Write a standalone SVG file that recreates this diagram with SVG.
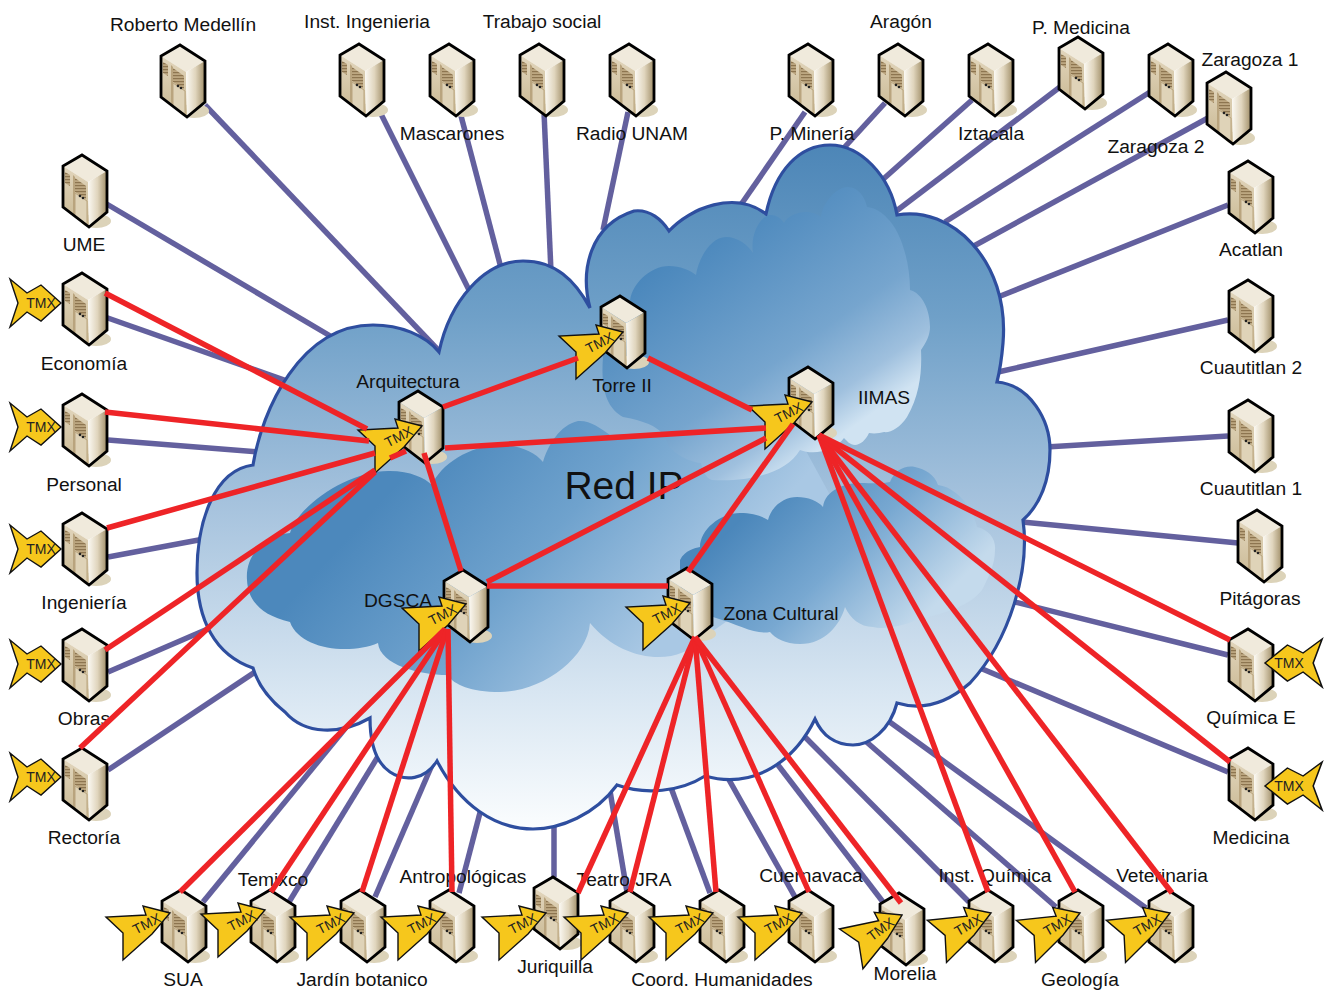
<svg xmlns="http://www.w3.org/2000/svg" width="1330" height="990" viewBox="0 0 1330 990">
<style>
text{font-family:"Liberation Sans",Arial,sans-serif;fill:#111}
.l{font-size:19.2px;text-anchor:middle}
.t{font-size:14px;text-anchor:middle;fill:#222}
.b line{stroke:#63609e;stroke-width:5.5}
.r line{stroke:#ee2427;stroke-width:5.5}
.ar{fill:#f6c71c;stroke:#111;stroke-width:1.4;stroke-linejoin:miter}
</style>
<defs>
<linearGradient id="gC" gradientUnits="userSpaceOnUse" x1="0" y1="145" x2="0" y2="830">
<stop offset="0" stop-color="#4d86b7"/><stop offset=".25" stop-color="#6fa0c8"/><stop offset=".52" stop-color="#a5c2dd"/><stop offset=".8" stop-color="#d8e6f2"/><stop offset="1" stop-color="#fbfdfe"/>
</linearGradient>
<linearGradient id="gU" gradientUnits="userSpaceOnUse" x1="680" y1="250" x2="820" y2="450">
<stop offset="0" stop-color="#4a87bc"/><stop offset=".6" stop-color="#76a5ce"/><stop offset=".85" stop-color="#9fc0de"/><stop offset="1" stop-color="#d0e3f2"/>
</linearGradient>
<linearGradient id="gL" gradientUnits="userSpaceOnUse" x1="400" y1="480" x2="620" y2="680">
<stop offset="0" stop-color="#4c88bc"/><stop offset=".5" stop-color="#6fa2cd"/><stop offset="1" stop-color="#a9c8e4"/>
</linearGradient>
<linearGradient id="gR" gradientUnits="userSpaceOnUse" x1="760" y1="500" x2="900" y2="640">
<stop offset="0" stop-color="#4b87bb"/><stop offset=".5" stop-color="#78a8d1"/><stop offset="1" stop-color="#c4daec"/>
</linearGradient>
<linearGradient id="gS" x1="0" y1="0" x2="1" y2="0">
<stop offset="0" stop-color="#fbf9f3"/><stop offset=".5" stop-color="#e0d5bd"/><stop offset="1" stop-color="#a08e68"/>
</linearGradient>
<linearGradient id="gF" x1="0" y1="0" x2="0" y2="1">
<stop offset="0" stop-color="#e2d6bd"/><stop offset="1" stop-color="#c8b791"/>
</linearGradient>
<pattern id="v" width="3" height="3" patternUnits="userSpaceOnUse"><rect width="3" height="3" fill="#bda781"/><rect width="3" height="1.2" fill="#8d7550"/></pattern>
<g id="srv" transform="translate(1,0)">
<ellipse cx="14" cy="66" rx="15" ry="7" fill="#dcd3b9"/>
<polygon points="0,0 25,16 6,27 -19,11" fill="#f0eadc"/>
<polygon points="-19,11 6,27 7,72 -19,52" fill="url(#gF)"/>
<polygon points="25,16 25,57 7,72 6,27" fill="url(#gS)"/>
<polygon points="-17,17 -12,20 -12,31 -17,28" fill="url(#v)"/>
<polygon points="-7,23 4,31 4,44 -7,37" fill="url(#v)"/>
<polygon points="-9,20 -9,60 -7,62 -7,22" fill="#b9a47e"/>
<polygon points="-7,38 5,46 5,69 -7,62" fill="#dfd3b8" stroke="#b9a47e" stroke-width="1"/>
<circle cx="-2" cy="41" r="1.3" fill="#222"/><circle cx="1" cy="43" r="1.3" fill="#222"/>
<polygon points="0,0 25,16 25,57 7,72 -19,52 -19,11" fill="none" stroke="#000" stroke-width="2.8" stroke-linejoin="miter"/>
</g>
<polygon id="aL" class="ar" points="0,0 -20,-18 -34,-10 -51,-24 -43,0 -51,24 -34,9 -20,18"/>
<polygon id="aR" class="ar" points="0,0 -27,-7 -24,2 -64,4 -47,20 -47,47 -18,21"/>
</defs>

<g id="connectors-ip" class="b">
<line x1="205" y1="105" x2="440" y2="352"/>
<line x1="380" y1="112" x2="470" y2="292"/>
<line x1="460" y1="112" x2="501" y2="268"/>
<line x1="544" y1="112" x2="551" y2="272"/>
<line x1="628" y1="112" x2="603" y2="230"/>
<line x1="805" y1="112" x2="740" y2="206"/>
<line x1="885" y1="103" x2="842" y2="150"/>
<line x1="972" y1="100" x2="880" y2="182"/>
<line x1="1060" y1="87" x2="895" y2="212"/>
<line x1="1150" y1="92" x2="945" y2="222"/>
<line x1="1208" y1="118" x2="972" y2="247"/>
<line x1="1228" y1="205" x2="998" y2="297"/>
<line x1="1228" y1="320" x2="998" y2="372"/>
<line x1="1228" y1="436" x2="1046" y2="447"/>
<line x1="1238" y1="543" x2="1022" y2="522"/>
<line x1="1228" y1="655" x2="1015" y2="602"/>
<line x1="1228" y1="772" x2="980" y2="668"/>
<line x1="105" y1="203" x2="332" y2="337"/>
<line x1="105" y1="317" x2="290" y2="382"/>
<line x1="108" y1="440" x2="258" y2="452"/>
<line x1="108" y1="557" x2="204" y2="539"/>
<line x1="108" y1="672" x2="210" y2="628"/>
<line x1="108" y1="770" x2="258" y2="670"/>
<line x1="203" y1="902" x2="348" y2="725"/>
<line x1="289" y1="902" x2="382" y2="750"/>
<line x1="375" y1="897" x2="432" y2="765"/>
<line x1="459" y1="893" x2="482" y2="805"/>
<line x1="554" y1="877" x2="554" y2="820"/>
<line x1="627" y1="892" x2="609" y2="785"/>
<line x1="710" y1="893" x2="670" y2="785"/>
<line x1="795" y1="897" x2="728" y2="778"/>
<line x1="883" y1="902" x2="778" y2="765"/>
<line x1="969" y1="902" x2="805" y2="737"/>
<line x1="1056" y1="907" x2="862" y2="738"/>
<line x1="1146" y1="908" x2="887" y2="720"/>
</g>

<g id="cloud">
<path id="cloud-outer" fill="url(#gC)" stroke="#2e4e9f" stroke-width="3.2" stroke-linejoin="miter" d="M590,308 C580,270 590,225 634,211 C650,209 662,220 669,231 C690,208 735,190 766,214 C775,170 800,145 830,145 C860,145 890,175 897,215 C950,205 1010,260 1003,343 C1002,355 1000,370 997,382 C1030,385 1050,420 1050,450 C1050,480 1040,505 1023,520 C1030,570 1010,640 970,683 C945,705 920,710 897,703 C890,730 870,745 853,745 C835,745 822,735 815,719 C795,760 755,790 705,776 C680,792 645,795 617,785 C595,815 560,829 533,829 C495,829 460,805 437,761 C425,780 405,782 390,772 C375,762 370,740 370,718 C340,735 305,735 285,712 C270,700 258,685 253,668 C215,655 197,620 197,573 C197,520 215,470 253,465 C262,410 300,325 373,325 C400,325 425,335 439,352 C450,300 485,261 523,261 C555,261 575,280 590,308 Z"/>
<path fill="url(#gL)" d="M247,580 C245,555 265,535 290,533 C298,505 350,470 390,471 C410,471 425,478 432,485 C440,465 470,445 500,445 C520,445 535,452 543,462 C548,445 560,425 578,421 C590,420 600,428 610,435 L700,430 L800,440 L830,495 L800,570 L700,640 C680,665 625,665 590,623 C587,660 540,692 500,692 C470,692 455,685 447,675 C420,675 380,665 378,643 C350,655 300,650 290,622 C260,615 248,600 247,580 Z"/>
<path fill="url(#gR)" d="M680,560 C685,550 695,548 700,547 C700,530 720,513 740,513 C752,513 762,516 768,520 C772,505 785,497 797,497 C808,497 818,501 823,507 C825,490 845,483 860,483 C872,483 882,484 890,482 C895,470 905,465 915,467 C925,469 935,475 938,485 C955,487 972,505 977,527 C990,530 996,540 995,550 C995,565 988,578 982,590 C970,605 950,612 917,620 C905,625 885,630 873,627 C860,627 850,618 845,607 C840,625 825,644 800,644 C785,644 775,638 770,632 C755,635 740,625 713,617 L680,600 Z"/>
<path fill="url(#gU)" d="M603,357 C605,335 615,315 630,303 C630,285 650,266 669,266 C680,266 690,270 696,275 C698,260 710,237 726,237 C738,237 748,245 753,253 C750,235 760,215 771,215 C776,215 781,218 784,223 C790,212 810,208 821,217 C822,205 835,187 848,187 C858,187 865,197 867,207 C875,208 882,212 887,218 C900,230 910,260 910,290 C922,293 930,310 930,327 C930,335 926,343 921,350 C922,370 920,395 907,417 C900,428 890,433 884,432 C880,433 875,434 869,433 C866,440 860,445 855,445 C850,445 847,441 844,438 C835,450 815,456 800,450 C785,475 745,482 712,480 C705,478 703,470 701,463 C695,463 680,458 669,447 C665,440 668,425 623,417 C610,410 600,395 603,357 Z"/>
<text x="624" y="499" text-anchor="middle" style="font-size:39px">Red IP</text>
</g>

<g id="n-roberto"><use href="#srv" x="179" y="45"/><text class="l" x="183" y="31">Roberto Medellín</text></g>
<g id="n-inst-ing"><use href="#srv" x="358" y="44"/><text class="l" x="367" y="28">Inst. Ingenieria</text></g>
<g id="n-mascarones"><use href="#srv" x="448" y="44"/><text class="l" x="452" y="140">Mascarones</text></g>
<g id="n-trabajo"><use href="#srv" x="538" y="44"/><text class="l" x="542" y="28">Trabajo social</text></g>
<g id="n-radio"><use href="#srv" x="628" y="44"/><text class="l" x="632" y="140">Radio UNAM</text></g>
<g id="n-mineria"><use href="#srv" x="807" y="44"/><text class="l" x="812" y="140">P. Minería</text></g>
<g id="n-aragon"><use href="#srv" x="897" y="44"/><text class="l" x="901" y="28">Aragón</text></g>
<g id="n-iztacala"><use href="#srv" x="987" y="44"/><text class="l" x="991" y="140">Iztacala</text></g>
<g id="n-medicina-p"><use href="#srv" x="1077" y="37"/><text class="l" x="1081" y="34">P. Medicina</text></g>
<g id="n-zaragoza1"><use href="#srv" x="1167" y="44"/><text class="l" x="1250" y="66">Zaragoza 1</text></g>
<g id="n-zaragoza2"><use href="#srv" x="1225" y="72"/><text class="l" x="1156" y="153">Zaragoza 2</text></g>
<g id="n-acatlan"><use href="#srv" x="1247" y="161"/><text class="l" x="1251" y="256">Acatlan</text></g>
<g id="n-cuau2"><use href="#srv" x="1247" y="280"/><text class="l" x="1251" y="374">Cuautitlan 2</text></g>
<g id="n-cuau1"><use href="#srv" x="1247" y="400"/><text class="l" x="1251" y="495">Cuautitlan 1</text></g>
<g id="n-pitagoras"><use href="#srv" x="1256" y="510"/><text class="l" x="1260" y="605">Pitágoras</text></g>
<g id="n-quimica-e"><use href="#srv" x="1247" y="629"/><g transform="translate(1265,663)"><use href="#aL" transform="scale(-1.12,1)"/><text class="t" x="24" y="5">TMX</text></g><text class="l" x="1251" y="724">Química E</text></g>
<g id="n-medicina"><use href="#srv" x="1247" y="748"/><g transform="translate(1265,786)"><use href="#aL" transform="scale(-1.12,1)"/><text class="t" x="24" y="5">TMX</text></g><text class="l" x="1251" y="844">Medicina</text></g>

<g id="n-ume"><use href="#srv" x="81" y="155"/><text class="l" x="84" y="251">UME</text></g>
<g id="n-economia"><use href="#srv" x="81" y="273"/><g transform="translate(61,303)"><use href="#aL"/><text class="t" x="-20" y="5">TMX</text></g><text class="l" x="84" y="370">Economía</text></g>
<g id="n-personal"><use href="#srv" x="81" y="394"/><g transform="translate(61,427)"><use href="#aL"/><text class="t" x="-20" y="5">TMX</text></g><text class="l" x="84" y="491">Personal</text></g>
<g id="n-ingenieria"><use href="#srv" x="81" y="513"/><g transform="translate(61,549)"><use href="#aL"/><text class="t" x="-20" y="5">TMX</text></g><text class="l" x="84" y="609">Ingeniería</text></g>
<g id="n-obras"><use href="#srv" x="81" y="629"/><g transform="translate(61,664)"><use href="#aL"/><text class="t" x="-20" y="5">TMX</text></g><text class="l" x="84" y="725">Obras</text></g>
<g id="n-rectoria"><use href="#srv" x="81" y="748"/><g transform="translate(61,777)"><use href="#aL"/><text class="t" x="-20" y="5">TMX</text></g><text class="l" x="84" y="844">Rectoría</text></g>

<g id="n-arquitectura"><use href="#srv" x="417" y="391"/><text class="l" x="408" y="388">Arquitectura</text><g transform="translate(422,426)"><use href="#aR"/><text class="t" transform="translate(-21,15) rotate(-27)">TMX</text></g></g>
<g id="n-torre"><use href="#srv" x="619" y="296"/><text class="l" x="622" y="392">Torre II</text><g transform="translate(623,332)"><use href="#aR"/><text class="t" transform="translate(-21,15) rotate(-27)">TMX</text></g></g>
<g id="n-iimas"><use href="#srv" x="807" y="367"/><text class="l" x="884" y="404">IIMAS</text><g transform="translate(812,402)"><use href="#aR"/><text class="t" transform="translate(-21,15) rotate(-27)">TMX</text></g></g>
<g id="n-dgsca"><use href="#srv" x="462" y="570"/><text class="l" x="398" y="607">DGSCA</text><g transform="translate(466,604)"><use href="#aR"/><text class="t" transform="translate(-21,15) rotate(-27)">TMX</text></g></g>
<g id="n-zona"><use href="#srv" x="686" y="568"/><text class="l" x="781" y="620">Zona Cultural</text><g transform="translate(690,603)"><use href="#aR"/><text class="t" transform="translate(-21,15) rotate(-27)">TMX</text></g></g>

<g id="n-sua"><use href="#srv" x="180" y="890"/><text class="l" x="183" y="986">SUA</text><g transform="translate(170,913)"><use href="#aR"/><text class="t" transform="translate(-21,15) rotate(-27)">TMX</text></g></g>
<g id="n-temixco"><use href="#srv" x="269" y="890"/><text class="l" x="273" y="886">Temixco</text><g transform="translate(265,910)"><use href="#aR"/><text class="t" transform="translate(-21,15) rotate(-27)">TMX</text></g></g>
<g id="n-jardin"><use href="#srv" x="359" y="890"/><text class="l" x="362" y="986">Jardín botanico</text><g transform="translate(354,913)"><use href="#aR"/><text class="t" transform="translate(-21,15) rotate(-27)">TMX</text></g></g>
<g id="n-antropologicas"><use href="#srv" x="448" y="890"/><text class="l" x="463" y="883">Antropológicas</text><g transform="translate(445,913)"><use href="#aR"/><text class="t" transform="translate(-21,15) rotate(-27)">TMX</text></g></g>
<g id="n-juriquilla"><use href="#srv" x="552" y="877"/><text class="l" x="555" y="973">Juriquilla</text><g transform="translate(546,913)"><use href="#aR"/><text class="t" transform="translate(-21,15) rotate(-27)">TMX</text></g></g>
<g id="n-teatro"><use href="#srv" x="628" y="890"/><text class="l" x="624" y="886">Teatro JRA</text><g transform="translate(628,913)"><use href="#aR"/><text class="t" transform="translate(-21,15) rotate(-27)">TMX</text></g></g>
<g id="n-coord"><use href="#srv" x="718" y="890"/><text class="l" x="722" y="986">Coord. Humanidades</text><g transform="translate(713,913)"><use href="#aR"/><text class="t" transform="translate(-21,15) rotate(-27)">TMX</text></g></g>
<g id="n-cuernavaca"><use href="#srv" x="807" y="890"/><text class="l" x="811" y="882">Cuernavaca</text><g transform="translate(802,913)"><use href="#aR"/><text class="t" transform="translate(-21,15) rotate(-27)">TMX</text></g></g>
<g id="n-morelia"><use href="#srv" x="898" y="893"/><text class="l" x="905" y="980">Morelia</text><g transform="translate(902,915) rotate(-9)"><use href="#aR"/><text class="t" transform="translate(-21,15) rotate(-27)">TMX</text></g></g>
<g id="n-inst-quimica"><use href="#srv" x="987" y="890"/><text class="l" x="995" y="882">Inst. Química</text><g transform="translate(991,913) rotate(-3)"><use href="#aR"/><text class="t" transform="translate(-21,15) rotate(-27)">TMX</text></g></g>
<g id="n-geologia"><use href="#srv" x="1077" y="890"/><text class="l" x="1080" y="986">Geología</text><g transform="translate(1080,913) rotate(-3)"><use href="#aR"/><text class="t" transform="translate(-21,15) rotate(-27)">TMX</text></g></g>
<g id="n-veterinaria"><use href="#srv" x="1167" y="890"/><text class="l" x="1162" y="882">Veterinaria</text><g transform="translate(1170,913) rotate(-3)"><use href="#aR"/><text class="t" transform="translate(-21,15) rotate(-27)">TMX</text></g></g>

<g id="connectors-tmx" class="r">
<line x1="105" y1="293" x2="367" y2="429"/>
<line x1="105" y1="412" x2="369" y2="441"/>
<line x1="107" y1="528" x2="375" y2="453"/>
<line x1="105" y1="650" x2="375" y2="470"/>
<line x1="80" y1="748" x2="375" y2="472"/>
<line x1="390" y1="458" x2="406" y2="451"/>
<line x1="443" y1="407" x2="578" y2="358"/>
<line x1="445" y1="448" x2="766" y2="428"/>
<line x1="648" y1="358" x2="752" y2="410"/>
<line x1="424" y1="453" x2="461" y2="571"/>
<line x1="487" y1="582" x2="766" y2="438"/>
<line x1="487" y1="586" x2="668" y2="586"/>
<line x1="688" y1="572" x2="793" y2="424"/>
<line x1="180" y1="892" x2="445" y2="629"/>
<line x1="271" y1="892" x2="446" y2="629"/>
<line x1="362" y1="892" x2="447" y2="629"/>
<line x1="452" y1="892" x2="448" y2="629"/>
<line x1="578" y1="893" x2="695" y2="637"/>
<line x1="630" y1="892" x2="695" y2="637"/>
<line x1="716" y1="892" x2="695" y2="637"/>
<line x1="809" y1="892" x2="695" y2="637"/>
<line x1="901" y1="903" x2="695" y2="637"/>
<line x1="988" y1="892" x2="819" y2="435"/>
<line x1="1075" y1="892" x2="819" y2="435"/>
<line x1="1172" y1="893" x2="819" y2="435"/>
<line x1="1230" y1="762" x2="819" y2="435"/>
<line x1="1230" y1="640" x2="819" y2="435"/>
</g>
</svg>
